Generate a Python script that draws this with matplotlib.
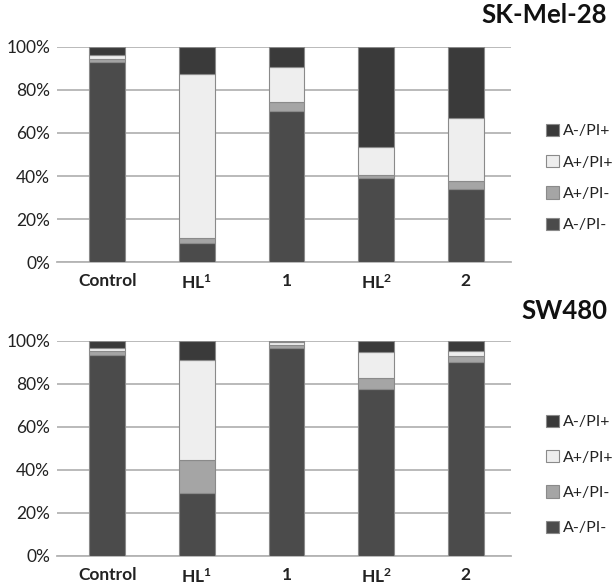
import matplotlib
matplotlib.use("Agg")
import matplotlib.pyplot as plt
import numpy as np
from matplotlib.patches import Patch

plt.rcParams['font.family'] = ['Lato', 'DejaVu Sans']
plt.rcParams['mathtext.fontset'] = 'custom'
plt.rcParams['mathtext.rm'] = 'Lato:bold'
plt.rcParams['mathtext.it'] = 'Lato:bold'
plt.rcParams['mathtext.bf'] = 'Lato:bold'

categories = ['Control', r'HL$^{1}$', '1', r'HL$^{2}$', '2']
series_names = ['A-/PI-', 'A+/PI-', 'A+/PI+', 'A-/PI+']

# SK-Mel-28 (percent)
skmel_a_neg_pi_neg = [92.7, 8.8, 70.2, 39.3, 34.0]
skmel_a_pos_pi_neg = [1.7, 2.3, 4.2, 1.1, 3.9]
skmel_a_pos_pi_pos = [1.7, 76.4, 16.2, 13.0, 29.1]
skmel_a_neg_pi_pos = [3.9, 12.5, 9.4, 46.6, 33.0]

# SW480 (percent)
sw_a_neg_pi_neg = [93.3, 29.4, 96.6, 77.7, 90.2]
sw_a_pos_pi_neg = [2.0, 15.2, 1.2, 5.0, 2.9]
sw_a_pos_pi_pos = [1.5, 46.6, 1.7, 12.1, 2.2]
sw_a_neg_pi_pos = [3.2, 8.8, 0.5, 5.2, 4.7]

colors = ['#4b4b4b', '#a5a5a5', '#eeeeee', '#3a3a3a']
edge = '#8a8a8a'

W, H = 614, 587
fig = plt.figure(figsize=(W / 100, H / 100), dpi=100)

def draw(ax_rect, data, title, title_y, legend_y, legend_spacing):
    ax = fig.add_axes(ax_rect)
    x = np.arange(len(categories))
    bottom = np.zeros(len(categories))
    for vals, c in zip(data, colors):
        v = np.array(vals, dtype=float)
        ax.bar(x, v, 0.40, bottom=bottom, color=c, edgecolor=edge, linewidth=0.8, zorder=3)
        bottom += v
    ax.set_ylim(0, 100)
    ax.set_xlim(-0.56, 4.50)
    ax.set_yticks([0, 20, 40, 60, 80, 100])
    ax.set_yticklabels(['0%', '20%', '40%', '60%', '80%', '100%'], fontsize=12.5, color='#222222')
    ax.set_xticks(x)
    ax.set_xticklabels(categories, fontsize=12.5, fontweight='bold', color='#222222')
    ax.tick_params(axis='both', length=0)
    ax.tick_params(axis='y', pad=5)
    ax.tick_params(axis='x', pad=8)
    ax.yaxis.grid(True, color='#b4b4b4', linewidth=1.3, zorder=0)
    ax.set_axisbelow(True)
    for s in ['left', 'right', 'top']:
        ax.spines[s].set_visible(False)
    ax.spines['bottom'].set_color('#b4b4b4')
    ax.spines['bottom'].set_linewidth(1.3)
    fig.text(607 / W, 1 - title_y / H, title, ha='right', va='center',
             fontsize=18.5, fontweight='bold', color='#111111')
    handles = [Patch(facecolor=c, edgecolor=edge, linewidth=0.8, label=n)
               for n, c in zip(series_names, colors)]
    handles = handles[::-1]
    leg = fig.legend(handles=handles, loc='center left',
                     bbox_to_anchor=(533 / W, 1 - legend_y / H), frameon=False,
                     fontsize=11.5, handlelength=0.8, handleheight=0.8,
                     handletextpad=0.25, labelspacing=legend_spacing,
                     borderpad=0.3)
    for t in leg.get_texts():
        t.set_color('#222222')
    return ax

draw([57 / W, 1 - 262.3 / H, 453.7 / W, 215.6 / H],
     [skmel_a_neg_pi_neg, skmel_a_pos_pi_neg, skmel_a_pos_pi_pos, skmel_a_neg_pi_pos],
     'SK-Mel-28', 15, 178, 1.05)
draw([57 / W, 1 - 556 / H, 453.7 / W, 215.3 / H],
     [sw_a_neg_pi_neg, sw_a_pos_pi_neg, sw_a_pos_pi_pos, sw_a_neg_pi_pos],
     'SW480', 311, 475, 1.3)

fig.savefig('out.png', dpi=100)
